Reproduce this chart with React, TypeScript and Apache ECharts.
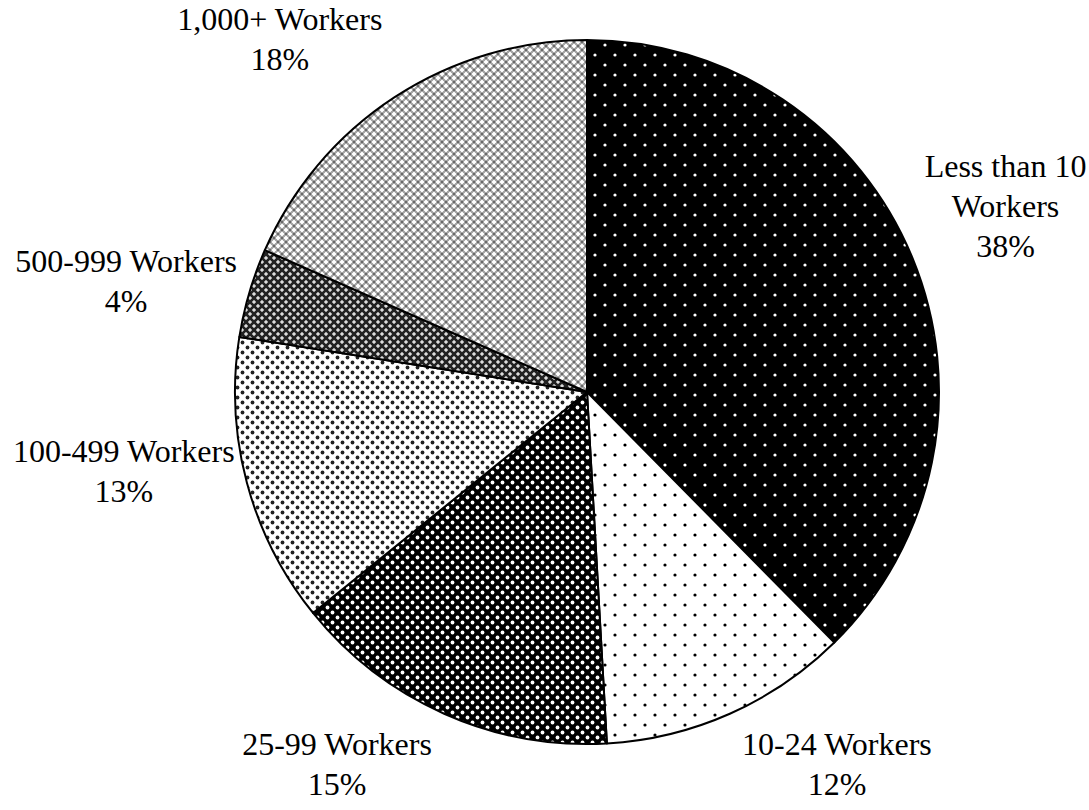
import React, { useEffect, useRef } from "react";
import * as echarts from "echarts";

const categories = [
  "Less than 10 Workers",
  "10-24 Workers",
  "25-99 Workers",
  "100-499 Workers",
  "500-999 Workers",
  "1,000+ Workers",
];
const labelNames = [
  "Less than 10\nWorkers",
  "10-24 Workers",
  "25-99 Workers",
  "100-499 Workers",
  "500-999 Workers",
  "1,000+ Workers",
];
// shares; each rounds to its printed percentage
const shares = [37.6, 11.5, 15.1, 13.3, 4.1, 18.4];

const CX = 587;
const CY = 392;
const R = 352;
const GAP = 12;
const PUSH_UP = 26;
const PUSH_DOWN = 16;
const VSHIFT = -12;

type Pat = { tile: number; bg: string; draw: (ctx: CanvasRenderingContext2D) => void };

function makePattern(p: Pat) {
  const c = document.createElement("canvas");
  c.width = p.tile;
  c.height = p.tile;
  const ctx = c.getContext("2d")!;
  ctx.fillStyle = p.bg;
  ctx.fillRect(0, 0, p.tile, p.tile);
  p.draw(ctx);
  return { image: c, repeat: "repeat" as const };
}

function dots(color: string, r: number, pts: number[][]) {
  return (ctx: CanvasRenderingContext2D) => {
    ctx.fillStyle = color;
    pts.forEach(([x, y]) => {
      ctx.beginPath();
      ctx.arc(x, y, r, 0, Math.PI * 2);
      ctx.fill();
    });
  };
}

function plus(fg: string, core: string, bg2: string | null, pts: number[][], pts2: number[][]) {
  return (ctx: CanvasRenderingContext2D) => {
    ctx.fillStyle = fg;
    pts.forEach(([x, y]) => {
      ctx.fillRect(x - 1, y - 2, 2, 4);
      ctx.fillRect(x - 2, y - 1, 4, 2);
    });
    ctx.fillStyle = core;
    pts.forEach(([x, y]) => ctx.fillRect(x - 1, y - 1, 2, 2));
    if (bg2) {
      ctx.fillStyle = bg2;
      pts2.forEach(([x, y]) => ctx.fillRect(x - 1, y - 1, 2, 2));
    }
  };
}

export default function App() {
  const ref = useRef<HTMLDivElement>(null);
  useEffect(() => {
    document.body.style.margin = "0";
    const chart = echarts.init(ref.current!, null, { renderer: "svg" });
    const patterns = [
      makePattern({ tile: 20, bg: "#000", draw: dots("#fff", 1.6, [[5, 5], [15, 15]]) }),
      makePattern({ tile: 20, bg: "#fff", draw: dots("#000", 1.6, [[5, 5], [15, 15]]) }),
      makePattern({ tile: 10, bg: "#000", draw: dots("#fff", 1.9, [[2.5, 2.5], [7.5, 7.5]]) }),
      makePattern({ tile: 10, bg: "#fff", draw: dots("#222", 1.9, [[2.5, 2.5], [7.5, 7.5]]) }),
      makePattern({ tile: 8, bg: "#222", draw: plus("#9a9a9a", "#dcdcdc", null, [[2, 2], [6, 6]], []) }),
      makePattern({ tile: 8, bg: "#a6a6a6", draw: plus("#f8f8f8", "#ffffff", "#6a6a6a", [[2, 2], [6, 6]], [[6, 2], [2, 6]]) }),
    ];
    const total = shares.reduce((a, b) => a + b, 0);
    const mids: number[] = [];
    let acc = 0;
    shares.forEach((v) => {
      mids.push(((acc + v / 2) / total) * Math.PI * 2);
      acc += v;
    });
    chart.setOption({
      animation: false,
      backgroundColor: "#fff",
      series: [
        {
          type: "pie",
          center: [CX, CY],
          radius: R,
          startAngle: 90,
          clockwise: true,
          avoidLabelOverlap: false,
          data: categories.map((name, i) => ({
            name,
            value: shares[i],
            itemStyle: { color: patterns[i] },
          })),
          itemStyle: { borderColor: "#000", borderWidth: 2 },
          label: {
            show: true,
            position: "outside",
            formatter: (p: any) => `${labelNames[p.dataIndex]}\n${Math.round(p.percent)}%`,
            fontFamily: "'Liberation Serif', 'Times New Roman', serif",
            fontSize: 32,
            lineHeight: 40,
            color: "#000",
          },
          labelLine: { show: false },
          labelLayout: (p: any) => {
            const a = mids[p.dataIndex];
            const ux = Math.sin(a);
            const uy = -Math.cos(a);
            const w = p.labelRect.width;
            const h = p.labelRect.height;
            const ex = CX + R * ux;
            const ey = CY + R * uy;
            const sx = ux >= 0 ? 1 : -1;
            const sy = uy >= 0 ? 1 : -1;
            const near = ex + sx * GAP;
            const dx = near - CX;
            let cy = ey + VSHIFT;
            if (Math.abs(dx) < R) {
              const half = Math.sqrt(R * R - dx * dx);
              const top = cy - h / 2;
              const bot = cy + h / 2;
              if (bot > CY - half && top < CY + half) {
                cy = sy < 0 ? CY - half - h / 2 - PUSH_UP : CY + half + h / 2 + PUSH_DOWN;
              }
            }
            return {
              x: near + (sx * w) / 2,
              y: cy,
              align: "center",
              verticalAlign: "middle",
            };
          },
          emphasis: { disabled: true },
        },
      ],
    });
    return () => chart.dispose();
  }, []);
  return <div ref={ref} style={{ width: 1089, height: 810 }} />;
}
